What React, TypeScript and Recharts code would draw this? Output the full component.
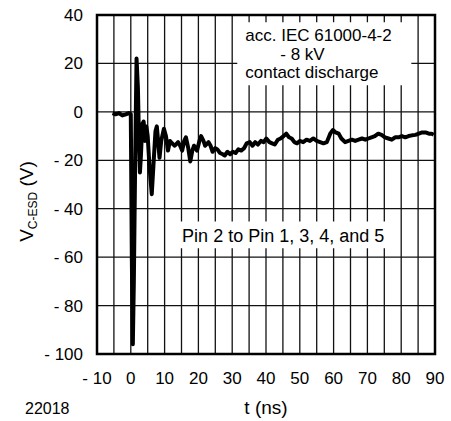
import React from 'react';
import {
  LineChart,
  Line,
  XAxis,
  YAxis,
  CartesianGrid,
  ReferenceArea,
} from 'recharts';

const FONT = '"Liberation Sans", Arial, Helvetica, sans-serif';

// time axis in ns
const tValues = [
  -5.4, -4.5, -3.5, -2.5, -1.5, -0.6, 0.0, 0.3, 0.6, 0.9, 1.3, 1.7, 2.1, 2.4, 2.7,
  3.0, 3.4, 3.8, 4.2, 4.6, 5.0, 5.5, 6.2, 6.7, 7.3, 7.7, 8.2, 8.5, 9.0, 9.8,
  10.4, 11.0, 11.6, 12.2, 13.0, 14.0, 14.6, 15.2, 15.8, 16.3, 17.0, 17.6, 18.2,
  18.7, 19.6, 20.3, 20.8, 21.5, 22.0, 23.0, 23.6, 24.2, 25.0, 25.6, 26.4, 27.2,
  27.8, 28.6, 29.4, 30.2, 31.0, 31.8, 32.7, 33.5, 34.3, 35.2, 36.0, 36.8, 37.6,
  38.5, 39.3, 40.1, 41.0, 41.8, 42.6, 43.5, 44.3, 45.2, 46.0, 46.8, 47.6, 48.4,
  49.2, 50.0, 51.0, 52.0, 53.0, 54.0, 55.0, 56.0, 57.0, 58.0, 59.0, 59.8, 60.6,
  61.5, 62.3, 63.4, 64.4, 65.4, 66.4, 67.4, 68.4, 69.4, 70.3, 71.2, 72.2, 73.2,
  74.2, 75.2, 76.2, 77.2, 78.2, 79.2, 80.2, 81.2, 82.2, 83.2, 84.2, 85.2, 86.2,
  87.2, 88.2, 89.0, 89.6,
];

// V_C-ESD in volts
const vValues = [
  -0.5, -1, -0.5, -1.5, -1, -0.5, -1, -60, -96, -70, -20, 22, 10, -10, -25,
  -18, -5, -4, -12, -6, -10, -22, -34, -22, -8, -6, -14, -19, -12, -7,
  -10, -16, -12, -13, -14, -12.5, -14, -16, -12, -10.5, -15, -20.5, -16,
  -14, -16, -12, -10, -12, -14, -12.5, -14, -16.5, -15, -15.5, -17, -17.5,
  -18, -16.5, -17.5, -16.5, -17, -15.5, -16, -15, -13, -12.5, -14, -12.5, -13.5,
  -12, -12.5, -11, -12.5, -13, -13.5, -11.5, -11, -10, -9, -10.5, -11, -12.5,
  -13, -12, -12.5, -11.5, -12, -11, -12, -12.5, -13, -12.5, -9, -7.5, -8.5,
  -9, -11, -12.5, -12, -11.5, -12, -11.5, -11, -11.5, -11, -10.5, -10, -9,
  -9.5, -10.5, -11, -11.5, -10.5, -10.5, -10, -10.5, -10, -9.7, -9.5, -9, -8.5,
  -8.5, -9, -9, -9.5,
];

const xTicks = [-10, -5, 0, 5, 10, 15, 20, 25, 30, 35, 40, 45, 50, 55, 60, 65, 70, 75, 80, 85, 90];
const yTicks = [-100, -80, -60, -40, -20, 0, 20, 40];

const iecLines = ['acc. IEC 61000-4-2', '- 8 kV', 'contact discharge'];
const pinText = 'Pin 2 to Pin 1, 3, 4, and 5';
const xTitle = 't (ns)';
const figureId = '22018';

const data = tValues.map((t, i) => ({ t, v: vValues[i] }));

const fmt = (v: number) => (v < 0 ? `- ${Math.abs(v)}` : `${v}`);

const IecText = (props: any) => {
  const { x, y } = props.viewBox;
  return (
    <g style={{ fontFamily: FONT }} fontSize={17} fill="#000">
      <text x={x + 8} y={y + 19}>{iecLines[0]}</text>
      <text x={x + 43} y={y + 37.5}>{iecLines[1]}</text>
      <text x={x + 8} y={y + 56}>{iecLines[2]}</text>
    </g>
  );
};

const PinText = (props: any) => {
  const { x, y } = props.viewBox;
  return (
    <text x={x + 4} y={y + 20} fontSize={18} fill="#000" style={{ fontFamily: FONT }}>
      {pinText}
    </text>
  );
};

const YTitle = (props: any) => {
  const { y, height } = props.viewBox;
  const cx = 33;
  const cy = y + height / 2 + 17;
  return (
    <text
      x={cx}
      y={cy}
      transform={`rotate(-90 ${cx} ${cy})`}
      textAnchor="middle"
      fontSize={19}
      fill="#000"
      style={{ fontFamily: FONT }}
    >
      V<tspan dy={4} fontSize={12}>C-ESD</tspan>
      <tspan dy={-4}> (V)</tspan>
    </text>
  );
};

const XTitle = (props: any) => {
  const { x, y, width } = props.viewBox;
  return (
    <g style={{ fontFamily: FONT }} fill="#000">
      <text x={x + width / 2} y={y + 60} textAnchor="middle" fontSize={19}>{xTitle}</text>
      <text x={25} y={y + 60} fontSize={16}>{figureId}</text>
    </g>
  );
};

export default function App() {
  return (
    <div style={{ position: 'absolute', left: 0, top: 0, background: '#fff', fontFamily: FONT }}>
      <LineChart
        width={451}
        height={421}
        data={data}
        margin={{ top: 15, right: 16, bottom: 37, left: 37 }}
      >
        <CartesianGrid
          stroke="#111"
          strokeWidth={1.3}
          horizontal
          vertical
        />
        <XAxis
          dataKey="t"
          type="number"
          domain={[-10, 90]}
          ticks={xTicks}
          tickFormatter={(v: number) => (v % 10 === 0 ? fmt(v) : '')}
          axisLine={false}
          tickLine={false}
          tickSize={6}
          tickMargin={12}
          height={30}
          tick={{ fill: '#000', fontSize: 17, fontFamily: FONT }}
          interval={0}
          label={<XTitle />}
        />
        <YAxis
          type="number"
          domain={[-100, 40]}
          ticks={yTicks}
          tickFormatter={fmt}
          width={60}
          axisLine={false}
          tickLine={false}
          tickSize={6}
          tickMargin={8}
          tick={{ fill: '#000', fontSize: 17, fontFamily: FONT }}
          interval={0}
          label={<YTitle />}
        />
        <ReferenceArea x1={31.5} x2={83} y1={11} y2={37} fill="#fff" fillOpacity={1} stroke="none" label={<IecText />} />
        <ReferenceArea x1={14} x2={78.2} y1={-56.3} y2={-45.3} fill="#fff" fillOpacity={1} stroke="none" label={<PinText />} />
        <ReferenceArea x1={-10} x2={90} y1={-100} y2={40} fill="none" stroke="#000" strokeWidth={2.5} />
        <Line
          dataKey="v"
          type="linear"
          stroke="#000"
          strokeWidth={4}
          strokeLinejoin="round"
          dot={false}
          isAnimationActive={false}
        />
      </LineChart>
    </div>
  );
}
